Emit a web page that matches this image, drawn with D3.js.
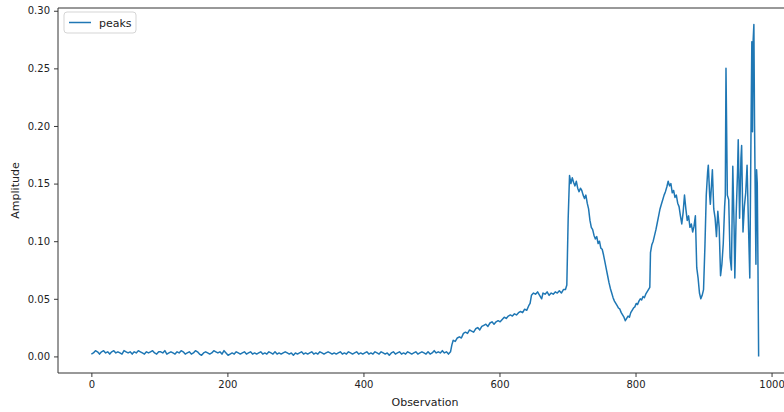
<!doctype html>
<html lang="en">
<head>
<meta charset="utf-8">
<title>peaks</title>
<script src="https://cdn.jsdelivr.net/npm/d3@7"></script>
<style>
    body { margin: 0; background: #fff; }
    svg { display: block; font-family: "DejaVu Sans", sans-serif; }
</style>
</head>
<body>
<script>
    // amplitude every 3rd observation, 0..528 (flat noisy part)
    const baseStep = 3
    const baseAmp = [
        0.002, 0.003, 0.005, 0.004, 0.002, 0.004, 0.005, 0.003, 0.004, 0.002,
        0.004, 0.005, 0.003, 0.004, 0.003, 0.002, 0.005, 0.004, 0.003, 0.004,
        0.002, 0.004, 0.003, 0.005, 0.004, 0.003, 0.002, 0.004, 0.003, 0.004,
        0.005, 0.003, 0.002, 0.004, 0.004, 0.003, 0.005, 0.002, 0.003, 0.004,
        0.003, 0.002, 0.004, 0.003, 0.005, 0.004, 0.002, 0.003, 0.004, 0.002,
        0.003, 0.005, 0.004, 0.002, 0.001, 0.003, 0.004, 0.003, 0.002, 0.003,
        0.005, 0.004, 0.003, 0.004, 0.002, 0.005, 0.003, 0.001, 0.002, 0.003,
        0.002, 0.004, 0.003, 0.002, 0.003, 0.004, 0.002, 0.003, 0.004, 0.002,
        0.003, 0.002, 0.003, 0.004, 0.002, 0.003, 0.002, 0.004, 0.003, 0.002,
        0.004, 0.002, 0.003, 0.002, 0.003, 0.004, 0.003, 0.002, 0.003, 0.001,
        0.003, 0.002, 0.003, 0.004, 0.002, 0.003, 0.002, 0.003, 0.004, 0.002,
        0.003, 0.002, 0.004, 0.003, 0.002, 0.003, 0.004, 0.003, 0.002, 0.003,
        0.002, 0.003, 0.004, 0.002, 0.003, 0.002, 0.004, 0.003, 0.002, 0.003,
        0.004, 0.002, 0.003, 0.002, 0.003, 0.004, 0.002, 0.003, 0.002, 0.004,
        0.003, 0.002, 0.004, 0.003, 0.002, 0.003, 0.001, 0.003, 0.004, 0.002,
        0.003, 0.004, 0.002, 0.003, 0.002, 0.004, 0.003, 0.002, 0.003, 0.004,
        0.002, 0.003, 0.004, 0.003, 0.002, 0.004, 0.002, 0.003, 0.005, 0.003,
        0.004, 0.003, 0.005, 0.003, 0.004, 0.002, 0.004
    ]

    const tailObs = [
        530, 532, 535, 538, 541, 544, 547, 550, 553, 556, 559, 562, 565, 568, 571, 574, 577, 580, 583, 586,
        589, 592, 595, 598, 601, 604, 607, 610, 613, 616, 619, 622, 625, 628, 631, 634, 637, 640, 643, 645,
        647, 650, 653, 656, 659, 662, 664, 667, 670, 673, 676, 679, 682, 685, 688, 691, 694, 697, 699, 701,
        703, 705, 707, 709, 711, 713, 715, 717, 719, 721, 723, 725, 727, 729, 731, 733, 735, 737, 739, 741,
        743, 745, 747, 749, 751, 753, 755, 757, 759, 761, 763, 765, 767, 769, 771, 773, 775, 777, 779, 781,
        783, 785, 787, 789, 791, 793, 795, 797, 799, 801, 803, 805, 807, 809, 811, 813, 815, 817, 819, 821,
        822, 824, 826, 828, 830, 832, 834, 836, 838, 840, 842, 844, 846, 848, 850, 852, 854, 856, 858, 860,
        862, 864, 866, 868, 870, 872, 874, 876, 878, 880, 882, 884, 886, 888, 890, 892, 894, 896, 898, 900,
        902, 904, 906, 907, 909, 910, 912, 913, 915, 917, 919, 921, 923, 925, 927, 929, 931, 932, 933, 935,
        937, 939, 941, 943, 945, 946, 948, 950, 951, 953, 955, 956, 958, 960, 962, 964, 966, 968, 970, 971,
        972, 973, 974, 975, 976, 977, 978, 979, 980, 981
    ]
    const tailAmp = [
        0.010, 0.014, 0.013, 0.016, 0.017, 0.016, 0.020, 0.021, 0.020, 0.023, 0.022, 0.021, 0.024, 0.025, 0.023, 0.026, 0.027, 0.028, 0.026, 0.029,
        0.030, 0.028, 0.030, 0.031, 0.030, 0.032, 0.034, 0.033, 0.035, 0.036, 0.035, 0.037, 0.036, 0.038, 0.039, 0.038, 0.041, 0.040, 0.044, 0.046,
        0.053, 0.055, 0.054, 0.056, 0.053, 0.050, 0.055, 0.054, 0.056, 0.053, 0.055, 0.054, 0.056, 0.055, 0.057, 0.055, 0.058, 0.058, 0.062, 0.120,
        0.157, 0.150, 0.155, 0.151, 0.148, 0.152, 0.146, 0.143, 0.146, 0.144, 0.140, 0.137, 0.140, 0.133, 0.128, 0.118, 0.112, 0.110, 0.105, 0.102,
        0.104, 0.098, 0.100, 0.094, 0.093, 0.088, 0.082, 0.076, 0.070, 0.064, 0.059, 0.055, 0.051, 0.048, 0.046, 0.044, 0.042, 0.041, 0.038, 0.036,
        0.034, 0.031, 0.033, 0.035, 0.034, 0.038, 0.040, 0.042, 0.043, 0.046, 0.045, 0.048, 0.050, 0.049, 0.052, 0.051, 0.054, 0.056, 0.058, 0.060,
        0.090, 0.097, 0.100, 0.105, 0.110, 0.116, 0.122, 0.128, 0.132, 0.136, 0.140, 0.143, 0.147, 0.152, 0.148, 0.150, 0.142, 0.144, 0.138, 0.140,
        0.133, 0.130, 0.122, 0.115, 0.125, 0.140, 0.128, 0.118, 0.122, 0.112, 0.115, 0.108, 0.113, 0.122, 0.077, 0.068, 0.055, 0.050, 0.053, 0.058,
        0.095, 0.140, 0.160, 0.166, 0.140, 0.132, 0.152, 0.162, 0.128, 0.120, 0.104, 0.126, 0.112, 0.070, 0.080, 0.098, 0.130, 0.140, 0.250, 0.140,
        0.136, 0.086, 0.075, 0.165, 0.110, 0.068, 0.124, 0.160, 0.188, 0.120, 0.172, 0.183, 0.108, 0.130, 0.142, 0.166, 0.115, 0.068, 0.210, 0.273,
        0.195, 0.275, 0.288, 0.200, 0.140, 0.080, 0.162, 0.150, 0.080, 0.000
    ]

    const xTicks = [0, 200, 400, 600, 800, 1000]
    const yTicks = [0, 0.05, 0.10, 0.15, 0.20, 0.25, 0.30]
    const seriesName = "peaks"

    const data = baseAmp.map((a, i) => ({ obs: i * baseStep, amp: a }))
        .concat(tailObs.map((o, i) => ({ obs: o, amp: tailAmp[i] })))

    const width = 784, height = 412
    const margin = { left: 58, right: -8, top: 8, bottom: 39 }

    // matplotlib style 5% padding on the data range
    const xExt = d3.extent(data, d => d.obs)
    const yExt = d3.extent(data, d => d.amp)
    const xPad = (xExt[1] - xExt[0]) * 0.05
    const yPad = (yExt[1] - yExt[0]) * 0.05

    const x = d3.scaleLinear()
        .domain([xExt[0] - xPad, xExt[1] + xPad])
        .range([margin.left, width - margin.right])
    const y = d3.scaleLinear()
        .domain([yExt[0] - yPad, yExt[1] + yPad])
        .range([height - margin.bottom, margin.top])

    const svg = d3.select("body").append("svg")
        .attr("width", width)
        .attr("height", height)

    const line = d3.line().x(d => x(d.obs)).y(d => y(d.amp))

    svg.append("path")
        .datum(data)
        .attr("fill", "none")
        .attr("stroke", "#1f77b4")
        .attr("stroke-width", 1.5)
        .attr("stroke-linejoin", "round")
        .attr("d", line)

    const xAxis = svg.append("g")
        .attr("transform", `translate(0,${height - margin.bottom})`)
        .call(d3.axisBottom(x).tickValues(xTicks).tickFormat(d3.format("d")).tickSizeOuter(0).tickSize(4).tickPadding(4))
    const yAxis = svg.append("g")
        .attr("transform", `translate(${margin.left},0)`)
        .call(d3.axisLeft(y).tickValues(yTicks).tickFormat(d3.format(".2f")).tickSizeOuter(0).tickSize(4).tickPadding(4))

    for (const g of [xAxis, yAxis]) {
        g.select(".domain").remove()
        g.selectAll("text").attr("font-size", 10).attr("fill", "#222").attr("font-family", "DejaVu Sans, sans-serif")
        g.selectAll("line").attr("stroke", "#222").attr("stroke-width", 0.9)
    }

    // spines
    svg.append("path")
        .attr("fill", "none")
        .attr("stroke", "#333")
        .attr("stroke-width", 1)
        .attr("d", `M${margin.left},${height - margin.bottom}H${width}M${margin.left},${height - margin.bottom}V${margin.top}H${width}`)

    svg.append("text")
        .attr("x", (x.range()[0] + x.range()[1]) / 2)
        .attr("y", 406)
        .attr("text-anchor", "middle")
        .attr("font-size", 11)
        .attr("fill", "#222")
        .text("Observation")

    svg.append("text")
        .attr("transform", `translate(19,${(y.range()[0] + y.range()[1]) / 2}) rotate(-90)`)
        .attr("text-anchor", "middle")
        .attr("font-size", 11)
        .attr("fill", "#222")
        .text("Amplitude")

    // legend
    const legend = svg.append("g").attr("transform", "translate(64,12)")
    legend.append("rect")
        .attr("width", 72).attr("height", 21).attr("rx", 3)
        .attr("fill", "#fff").attr("fill-opacity", 0.8)
        .attr("stroke", "#d5d5d5")
    legend.append("line")
        .attr("x1", 5).attr("x2", 27).attr("y1", 10.5).attr("y2", 10.5)
        .attr("stroke", "#1f77b4").attr("stroke-width", 1.5)
    legend.append("text")
        .attr("x", 35).attr("y", 14.5)
        .attr("font-size", 11).attr("fill", "#222")
        .text(seriesName)
</script>
</body>
</html>
